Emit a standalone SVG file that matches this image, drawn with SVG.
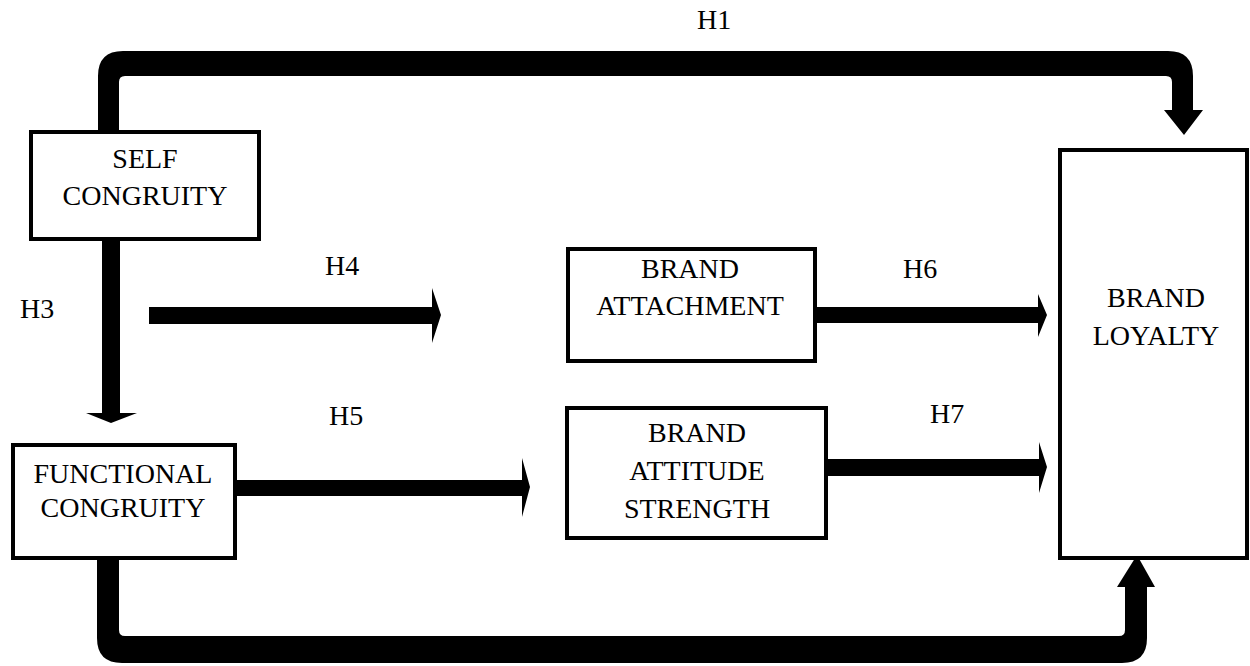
<svg xmlns="http://www.w3.org/2000/svg" width="1250" height="666" viewBox="0 0 1250 666">
<style>
.box{fill:#fff;stroke:#000;stroke-width:4}
.t{font-family:"Liberation Serif","Times New Roman",Times,serif;font-size:28px;fill:#000}
.c{text-anchor:middle}
.conn{fill:#000;stroke:none}
</style>
<rect width="1250" height="666" fill="#fff"/>
<g id="connectors">
<path class="conn" d="M98,131 L98,76 Q98,51 123,51 L1168,51 Q1193,51 1193,76 L1193,110 L1203,110 L1184,135 L1164,110 L1172,110 L1172,82 Q1172,76 1166,76 L125,76 Q119,76 119,82 L119,131 Z"/>
<path class="conn" d="M97,558 Q97,555 100,555 L116,555 Q119,555 119,558 L119,630 Q119,636 125,636 L1119,636 Q1125,636 1125,630 L1125,587 L1117,587 L1137,555 L1155,587 L1147,587 L1147,638 Q1147,663 1122,663 L122,663 Q97,663 97,638 Z"/>
<path class="conn" d="M102,240 L120,240 L120,413 L137,413 L111,423 L86,413 L102,413 Z"/>
<path class="conn" d="M149,307 L432,307 L432,288 L441,315 L432,343 L432,324 L149,324 Z"/>
<path class="conn" d="M237,480 L522,480 L522,458 L530,487 L522,517 L522,496 L237,496 Z"/>
<path class="conn" d="M817,307 L1038,307 L1038,294 L1047,315 L1038,337 L1038,323 L817,323 Z"/>
<path class="conn" d="M828,459 L1039,459 L1039,442 L1047,467 L1039,493 L1039,476 L828,476 Z"/>
</g>
<g id="labels">
<text class="t" x="697" y="29">H1</text>
<text class="t" x="20" y="318">H3</text>
<text class="t" x="325" y="275">H4</text>
<text class="t" x="329" y="425">H5</text>
<text class="t" x="903" y="278">H6</text>
<text class="t" x="930" y="423">H7</text>
</g>
<g id="self-congruity">
<rect class="box" x="31" y="132" width="228" height="107"/>
<text class="t c" x="145" y="168">SELF</text>
<text class="t c" x="145" y="205">CONGRUITY</text>
</g>
<g id="functional-congruity">
<rect class="box" x="13" y="445" width="222" height="113"/>
<text class="t c" x="123" y="483">FUNCTIONAL</text>
<text class="t c" x="123" y="517">CONGRUITY</text>
</g>
<g id="brand-attachment">
<rect class="box" x="568" y="249" width="247" height="112"/>
<text class="t c" x="690" y="278">BRAND</text>
<text class="t c" x="690" y="315">ATTACHMENT</text>
</g>
<g id="brand-attitude-strength">
<rect class="box" x="567" y="408" width="259" height="130"/>
<text class="t c" x="697" y="442">BRAND</text>
<text class="t c" x="697" y="480">ATTITUDE</text>
<text class="t c" x="697" y="518">STRENGTH</text>
</g>
<g id="brand-loyalty">
<rect class="box" x="1060" y="150" width="187" height="408"/>
<text class="t c" x="1156" y="307">BRAND</text>
<text class="t c" x="1156" y="345">LOYALTY</text>
</g>
</svg>
